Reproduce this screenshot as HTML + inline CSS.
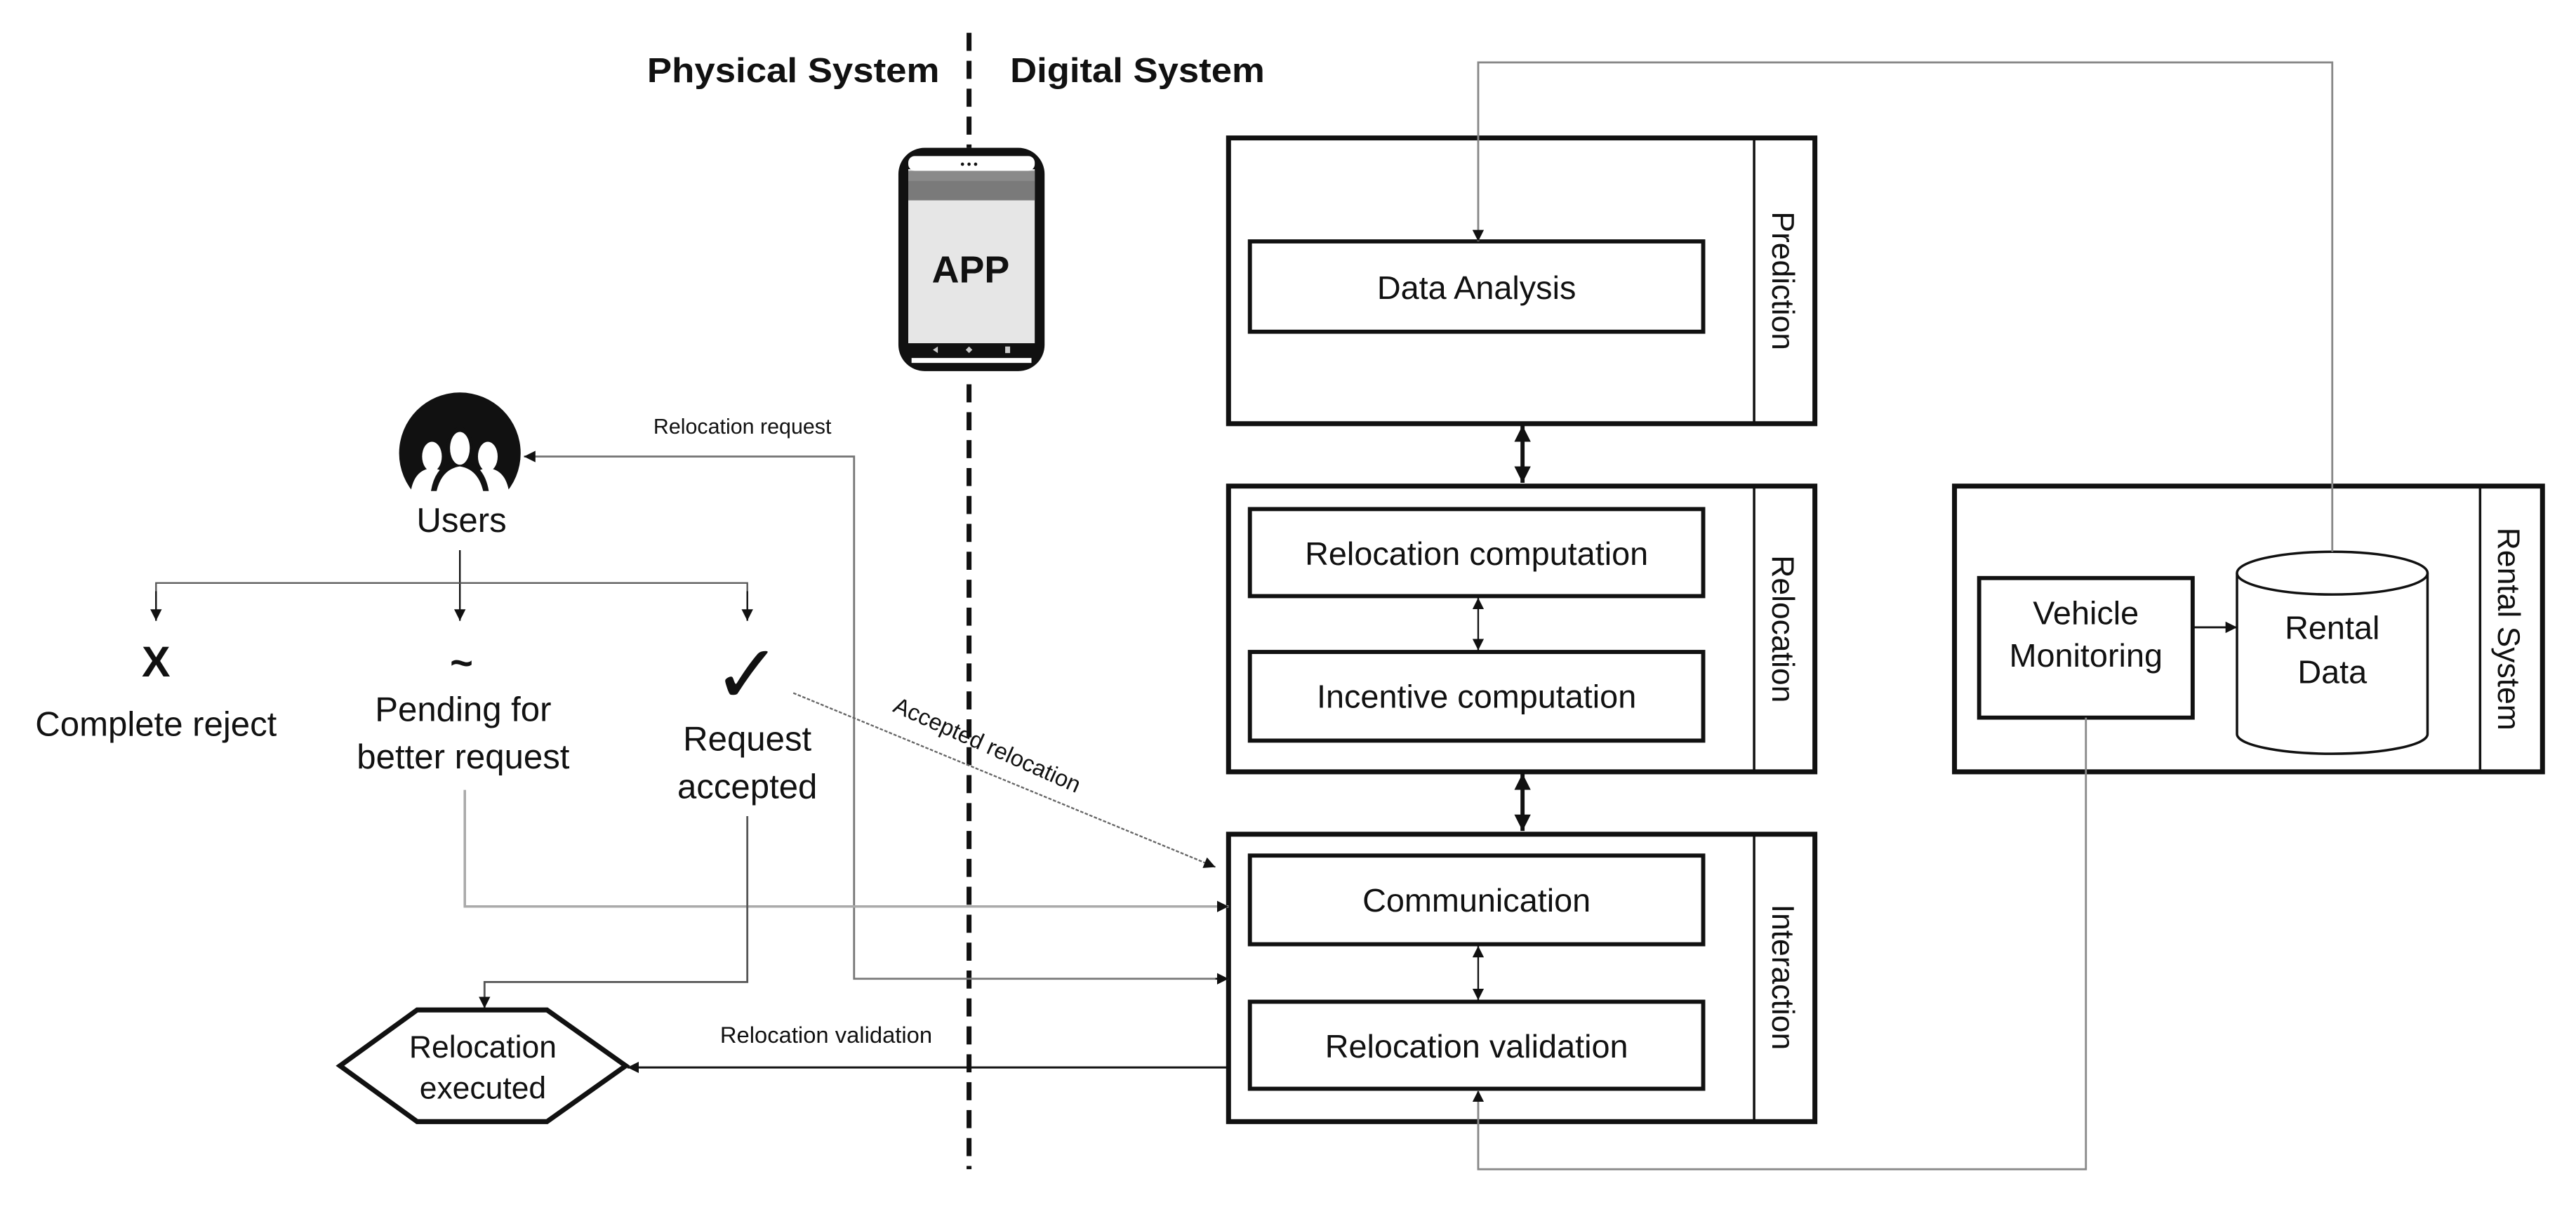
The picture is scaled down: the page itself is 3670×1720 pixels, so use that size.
<!DOCTYPE html>
<html><head><meta charset="utf-8"><style>
html,body{margin:0;padding:0;background:#fff;}
svg{display:block;}
text{font-family:"Liberation Sans Narrow","Liberation Sans",sans-serif;fill:#111;}
.w{font-family:"Liberation Sans",sans-serif;}
</style></head><body>
<svg width="3670" height="1720" viewBox="0 0 1568.4 735" preserveAspectRatio="none" xmlns="http://www.w3.org/2000/svg">
<defs>
<marker id="a" viewBox="0 0 10 10" refX="10" refY="5" markerWidth="7" markerHeight="7" markerUnits="userSpaceOnUse" orient="auto-start-reverse"><path d="M0,0L10,5L0,10z" fill="#111"/></marker>
<marker id="ab" viewBox="0 0 10 10" refX="10" refY="5" markerWidth="10" markerHeight="10" markerUnits="userSpaceOnUse" orient="auto-start-reverse"><path d="M0,0L10,5L0,10z" fill="#111"/></marker>
</defs>

<text x="572" y="50" font-size="21" font-weight="bold" text-anchor="end" textLength="178" lengthAdjust="spacingAndGlyphs">Physical System</text>
<text x="615" y="50" font-size="21" font-weight="bold" textLength="155" lengthAdjust="spacingAndGlyphs">Digital System</text>

<line x1="590" y1="20" x2="590" y2="90" stroke="#111" stroke-width="3" stroke-dasharray="11 6"/>
<line x1="590" y1="234" x2="590" y2="712" stroke="#111" stroke-width="3" stroke-dasharray="11 6"/>

<!-- phone -->
<rect x="547" y="90" width="89" height="136" rx="16" fill="#111"/>
<rect x="553" y="103" width="77" height="106" fill="#e6e6e6"/>
<rect x="553" y="104" width="77" height="6" fill="#8a8a8a"/>
<rect x="553" y="110" width="77" height="12" fill="#7a7a7a"/>
<rect x="553" y="95" width="77" height="9" rx="4" fill="#fff"/>
<circle cx="586" cy="100" r="1" fill="#111"/><circle cx="590" cy="100" r="1" fill="#111"/><circle cx="594" cy="100" r="1" fill="#111"/>
<rect x="555" y="218" width="73" height="3" fill="#fff"/>
<text x="591" y="172" font-size="23" font-weight="bold" text-anchor="middle">APP</text>
<path d="M568,213l3,-2v4z M590,211l2,2l-2,2l-2,-2z" fill="#ccc"/>
<rect x="612" y="211" width="3" height="4" fill="#ccc"/>

<!-- Prediction -->
<rect x="748" y="84" width="357" height="174" fill="none" stroke="#111" stroke-width="3"/>
<line x1="1068" y1="84" x2="1068" y2="258" stroke="#111" stroke-width="1.5"/>
<text class="w" transform="translate(1079,171) rotate(90)" font-size="19" text-anchor="middle">Prediction</text>
<rect x="761" y="147" width="276" height="55" fill="none" stroke="#111" stroke-width="2.5"/>
<text x="899" y="182" font-size="20" text-anchor="middle">Data Analysis</text>

<line x1="927" y1="259" x2="927" y2="294" stroke="#111" stroke-width="2.5" marker-start="url(#ab)" marker-end="url(#ab)"/>

<!-- Relocation -->
<rect x="748" y="296" width="357" height="174" fill="none" stroke="#111" stroke-width="3"/>
<line x1="1068" y1="296" x2="1068" y2="470" stroke="#111" stroke-width="1.5"/>
<text class="w" transform="translate(1079,383) rotate(90)" font-size="19" text-anchor="middle">Relocation</text>
<rect x="761" y="310" width="276" height="53" fill="none" stroke="#111" stroke-width="2.5"/>
<text x="899" y="344" font-size="20" text-anchor="middle">Relocation computation</text>
<rect x="761" y="397" width="276" height="54" fill="none" stroke="#111" stroke-width="2.5"/>
<text x="899" y="431" font-size="20" text-anchor="middle">Incentive computation</text>
<line x1="900" y1="364" x2="900" y2="396" stroke="#111" stroke-width="1" marker-start="url(#a)" marker-end="url(#a)"/>

<line x1="927" y1="471" x2="927" y2="506" stroke="#111" stroke-width="2.5" marker-start="url(#ab)" marker-end="url(#ab)"/>

<!-- Interaction -->
<rect x="748" y="508" width="357" height="175" fill="none" stroke="#111" stroke-width="3"/>
<line x1="1068" y1="508" x2="1068" y2="683" stroke="#111" stroke-width="1.5"/>
<text class="w" transform="translate(1079,595) rotate(90)" font-size="19" text-anchor="middle">Interaction</text>
<rect x="761" y="521" width="276" height="54" fill="none" stroke="#111" stroke-width="2.5"/>
<text x="899" y="555" font-size="20" text-anchor="middle">Communication</text>
<rect x="761" y="610" width="276" height="53" fill="none" stroke="#111" stroke-width="2.5"/>
<text x="899" y="644" font-size="20" text-anchor="middle">Relocation validation</text>
<line x1="900" y1="576" x2="900" y2="609" stroke="#111" stroke-width="1" marker-start="url(#a)" marker-end="url(#a)"/>

<!-- Rental System -->
<rect x="1190" y="296" width="358" height="174" fill="none" stroke="#111" stroke-width="3"/>
<line x1="1510" y1="296" x2="1510" y2="470" stroke="#111" stroke-width="1.5"/>
<text class="w" transform="translate(1521,383) rotate(90)" font-size="19" text-anchor="middle">Rental System</text>
<rect x="1205" y="352" width="130" height="85" fill="none" stroke="#111" stroke-width="2.5"/>
<text x="1270" y="380" font-size="20" text-anchor="middle">Vehicle</text>
<text x="1270" y="406" font-size="20" text-anchor="middle">Monitoring</text>
<path d="M1362,349 V447 A58,12 0 0 0 1478,447 V349" fill="#fff" stroke="#111" stroke-width="1.5"/>
<ellipse cx="1420" cy="349" rx="58" ry="13" fill="#fff" stroke="#111" stroke-width="1.5"/>
<text x="1420" y="389" font-size="20" text-anchor="middle">Rental</text>
<text x="1420" y="416" font-size="20" text-anchor="middle">Data</text>
<line x1="1335" y1="382" x2="1362" y2="382" stroke="#111" stroke-width="1.2" marker-end="url(#a)"/>

<polyline points="1420,336 1420,38 900,38 900,147" fill="none" stroke="#888" stroke-width="1.2" marker-end="url(#a)"/>
<polyline points="1270,437 1270,712 900,712 900,664" fill="none" stroke="#888" stroke-width="1.2" marker-end="url(#a)"/>

<!-- Users icon -->
<circle cx="280" cy="276" r="37" fill="#111"/>
<g fill="#fff">
<ellipse cx="263" cy="278" rx="6" ry="9"/><ellipse cx="297" cy="278" rx="6" ry="9"/>
<path d="M250,300 q2,-14 13,-15 q11,1 13,15z"/><path d="M284,300 q2,-14 13,-15 q11,1 13,15z"/>
</g>
<g fill="#111">
<ellipse cx="280" cy="272" rx="8" ry="12"/>
<path d="M262,302 q2,-20 18,-22 q16,2 18,22z"/>
</g>
<g fill="#fff">
<ellipse cx="280" cy="273" rx="6" ry="10"/>
<path d="M265,304 q2,-18 15,-20 q13,2 15,20z"/>
</g>
<rect x="238" y="299" width="84" height="16" fill="#fff"/>
<text x="281" y="324" font-size="21" text-anchor="middle">Users</text>

<line x1="280" y1="335" x2="280" y2="378" stroke="#111" stroke-width="1" marker-end="url(#a)"/>
<polyline points="95,378 95,355 455,355 455,378" fill="none" stroke="#555" stroke-width="1"/>
<line x1="95" y1="360" x2="95" y2="378" stroke="#111" stroke-width="1" marker-end="url(#a)"/>
<line x1="455" y1="360" x2="455" y2="378" stroke="#111" stroke-width="1" marker-end="url(#a)"/>
<text x="95" y="412" font-size="26" font-weight="bold" text-anchor="middle">X</text>
<text x="281" y="412" font-size="24" font-weight="bold" text-anchor="middle">~</text>
<text x="455" y="428" font-size="50" text-anchor="middle" font-family="DejaVu Sans">✓</text>
<text x="95" y="448" font-size="21" text-anchor="middle">Complete reject</text>
<text x="282" y="439" font-size="21" text-anchor="middle">Pending for</text>
<text x="282" y="468" font-size="21" text-anchor="middle">better request</text>
<text x="455" y="457" font-size="21" text-anchor="middle">Request</text>
<text x="455" y="486" font-size="21" text-anchor="middle">accepted</text>

<polyline points="748,596 520,596 520,278 319,278" fill="none" stroke="#777" stroke-width="1.2" marker-end="url(#a)"/>
<line x1="740" y1="596" x2="748" y2="596" stroke="#111" stroke-width="1" marker-end="url(#a)"/>
<text x="452" y="264" font-size="13" text-anchor="middle">Relocation request</text>

<polyline points="283,481 283,552 748,552" fill="none" stroke="#aaa" stroke-width="1.5" marker-end="url(#a)"/>

<polyline points="455,497 455,598 295,598 295,614" fill="none" stroke="#555" stroke-width="1.2" marker-end="url(#a)"/>

<line x1="483" y1="422" x2="740" y2="528" stroke="#666" stroke-width="1" stroke-dasharray="2 1" marker-end="url(#a)"/>
<text transform="translate(543,433) rotate(24)" font-size="14">Accepted relocation</text>

<polygon points="254,615 333,615 381,649 333,683 254,683 207,649" fill="#fff" stroke="#111" stroke-width="3"/>
<text x="294" y="644" font-size="19" text-anchor="middle">Relocation</text>
<text x="294" y="669" font-size="19" text-anchor="middle">executed</text>
<line x1="748" y1="650" x2="382" y2="650" stroke="#111" stroke-width="1.3" marker-end="url(#a)"/>
<text x="503" y="635" font-size="14" text-anchor="middle">Relocation validation</text>
</svg>
</body></html>
